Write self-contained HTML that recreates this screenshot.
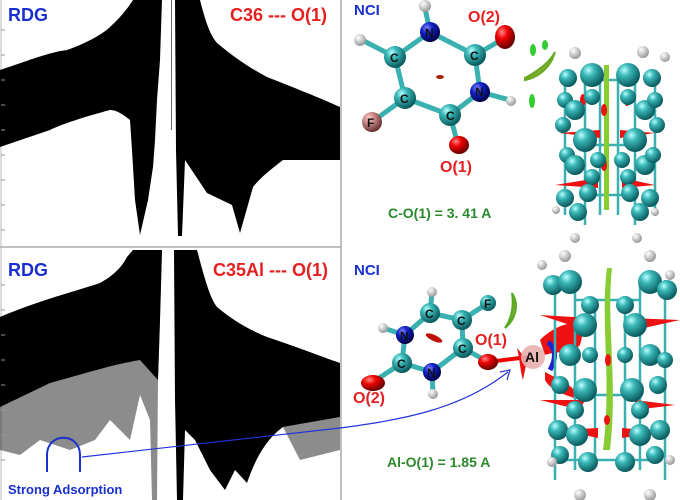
<!DOCTYPE html>
<html><head><meta charset="utf-8"><style>
html,body{margin:0;padding:0;background:#fff}
svg{display:block}
text{font-family:"Liberation Sans",Arial,sans-serif;font-weight:bold}
</style></head><body>
<svg width="680" height="500" viewBox="0 0 680 500" xmlns="http://www.w3.org/2000/svg">
<defs>
<radialGradient id="t" cx="35%" cy="30%" r="70%"><stop offset="0" stop-color="#bff"/><stop offset="0.35" stop-color="#3bb8b8"/><stop offset="1" stop-color="#0a5a5e"/></radialGradient>
<radialGradient id="w" cx="35%" cy="30%" r="70%"><stop offset="0" stop-color="#fff"/><stop offset="1" stop-color="#999"/></radialGradient>
<radialGradient id="r" cx="35%" cy="30%" r="70%"><stop offset="0" stop-color="#f88"/><stop offset="0.4" stop-color="#e00"/><stop offset="1" stop-color="#600"/></radialGradient>
<radialGradient id="b" cx="35%" cy="30%" r="70%"><stop offset="0" stop-color="#88f"/><stop offset="0.4" stop-color="#12c"/><stop offset="1" stop-color="#004"/></radialGradient>
<radialGradient id="f" cx="35%" cy="30%" r="70%"><stop offset="0" stop-color="#fcc"/><stop offset="0.4" stop-color="#c88"/><stop offset="1" stop-color="#633"/></radialGradient>
</defs>

<!-- frames -->
<line x1="341" y1="0" x2="341" y2="500" stroke="#aaa" stroke-width="1.5"/>
<line x1="0" y1="247" x2="341" y2="247" stroke="#aaa" stroke-width="1.5"/>
<line x1="1" y1="0" x2="1" y2="500" stroke="#bbb"/>

<!-- top scatter -->
<g fill="#000">
<path d="M0,70 C30,60 50,52 67,50 C90,42 105,32 110,27 C120,18 128,8 133,0 L162,0 L160,60 L157,100 L155,140 L153,167 L148,200 L140,235 L135,200 L132,150 L130,120 C120,112 115,110 110,110 C80,118 60,125 50,130 L0,147 Z"/>
<path d="M175,0 L200,0 C205,20 210,35 217,43 C235,58 250,68 267,77 C300,90 320,98 340,107 L340,160 L283,160 C270,170 260,178 253,187 L240,233 L232,205 L207,193 L185,160 L182,236 L178,236 L176,150 Z"/>
<rect x="171" y="0" width="1" height="130" opacity="0.6"/>
</g>
<!-- bottom scatter -->
<g fill="#000">
<path d="M0,317 C40,300 80,290 100,283 C115,275 123,265 127,257 L133,250 L162,250 L160,320 L158,380 L157,500 L152,500 L150,420 L140,395 L130,440 L110,420 L95,440 L70,450 L40,440 L20,455 L0,450 Z" opacity="0.45"/>
<path d="M0,317 C40,300 80,290 100,283 C115,275 123,265 127,257 L133,250 L162,250 L160,320 L158,380 L140,360 C110,365 80,375 50,383 L0,407 Z"/>
<path d="M174,250 L197,250 C205,280 210,298 217,307 C235,322 250,330 267,337 C300,348 320,356 340,363 L340,417 L283,427 C265,440 255,460 247,483 L235,470 L225,490 L210,470 L195,440 L185,430 L183,500 L177,500 L175,400 Z"/>
<path d="M283,427 L340,417 L340,450 L300,460 Z" opacity="0.45"/>
</g>

<!-- ticks -->
<g stroke="#999" stroke-width="1">
<path d="M1,30h4M1,55h4M1,80h4M1,105h4M1,130h4M1,155h4M1,180h4M1,205h4M1,230h4M1,285h4M1,310h4M1,335h4M1,360h4M1,385h4M1,410h4M1,435h4M1,460h4"/>
</g>

<text x="8" y="21" fill="#1a2fd0" font-size="18">RDG</text>
<text x="230" y="21" fill="#e52020" font-size="18">C36 --- O(1)</text>
<text x="8" y="276" fill="#1a2fd0" font-size="18">RDG</text>
<text x="213" y="276" fill="#e52020" font-size="18">C35Al --- O(1)</text>

<!-- strong adsorption marker -->
<path d="M47,472 L47,455 C47,432 80,432 80,455 L80,472" fill="none" stroke="#1a2fd0" stroke-width="2"/>
<path d="M82,457 L340,428 C400,420 460,410 508,372" fill="none" stroke="#2233dd" stroke-width="1.2"/>
<path d="M500,372 L510,370 L507,380" fill="none" stroke="#2233dd" stroke-width="1.2"/>
<text x="8" y="494" fill="#1a2fd0" font-size="13">Strong Adsorption</text>

<!-- top molecule -->
<g stroke="#3bb0b0" stroke-width="5" stroke-linecap="round" fill="none">
<path d="M430,32 L475,55 L480,92 L450,115 L405,98 L395,57 Z M430,32 L425,8 M395,57 L362,40 M405,98 L372,122 M475,55 L505,38 M480,92 L510,100 M450,115 L458,145"/>
</g>
<circle cx="425" cy="6" r="6" fill="url(#w)"/><circle cx="360" cy="40" r="6" fill="url(#w)"/><circle cx="511" cy="101" r="5" fill="url(#w)"/>
<circle cx="430" cy="32" r="10" fill="url(#b)"/><circle cx="480" cy="92" r="10" fill="url(#b)"/>
<circle cx="475" cy="55" r="11" fill="url(#t)"/><circle cx="450" cy="115" r="11" fill="url(#t)"/>
<circle cx="405" cy="98" r="11" fill="url(#t)"/><circle cx="395" cy="57" r="11" fill="url(#t)"/>
<circle cx="372" cy="122" r="10" fill="url(#f)"/>
<ellipse cx="505" cy="37" rx="10" ry="12" fill="url(#r)"/><ellipse cx="459" cy="145" rx="10" ry="9" fill="url(#r)"/>
<ellipse cx="440" cy="77" rx="4" ry="2" fill="#a20"/>
<g font-size="12" fill="#111"><text x="425" y="37">N</text><text x="475" y="96">N</text><text x="470" y="60">C</text><text x="446" y="120">C</text><text x="400" y="103">C</text><text x="390" y="62">C</text><text x="367" y="127">F</text></g>
<text x="468" y="22" fill="#e52020" font-size="16">O(2)</text>
<text x="440" y="172" fill="#e52020" font-size="16">O(1)</text>
<text x="388" y="218" fill="#2a8a2a" font-size="14">C-O(1) = 3. 41 A</text>
<text x="354" y="15" fill="#1a2fd0" font-size="15">NCI</text>
<g fill="#3c3"><ellipse cx="533" cy="50" rx="3" ry="6"/><ellipse cx="545" cy="45" rx="3" ry="5"/><ellipse cx="532" cy="101" rx="3" ry="7"/></g>
<path d="M525,78 C540,70 550,62 555,52 L552,60 C545,72 535,78 525,80 Z" fill="#8a3" stroke="#6a2" stroke-width="2"/>

<!-- top nanotube -->
<g stroke="#3bb0b0" stroke-width="2.5" fill="none">
<path d="M565,72 V215 M585,72 V225 M600,80 V215 M618,80 V215 M635,72 V225 M655,72 V215 M585,80 H635 M585,145 H635 M585,195 H635"/>
</g>
<rect x="604" y="65" width="5" height="145" fill="#8c3"/>
<g fill="#e11">
<path d="M560,133 L600,130 L600,138 Z"/><path d="M620,130 L655,133 L620,138 Z"/><path d="M555,185 L598,178 L598,188 Z"/><path d="M622,178 L655,185 L622,188 Z"/>
<ellipse cx="583" cy="100" rx="3" ry="6"/><ellipse cx="627" cy="100" rx="3" ry="6"/><ellipse cx="604" cy="110" rx="3" ry="6"/><ellipse cx="604" cy="165" rx="3" ry="6"/>
</g>
<g fill="url(#t)">
<circle cx="568" cy="78" r="9"/><circle cx="592" cy="75" r="12"/><circle cx="628" cy="75" r="12"/><circle cx="652" cy="78" r="9"/>
<circle cx="565" cy="100" r="8"/><circle cx="575" cy="110" r="10"/><circle cx="592" cy="97" r="8"/><circle cx="628" cy="97" r="8"/><circle cx="645" cy="110" r="10"/><circle cx="655" cy="100" r="8"/>
<circle cx="563" cy="125" r="8"/><circle cx="585" cy="140" r="12"/><circle cx="635" cy="140" r="12"/><circle cx="657" cy="125" r="8"/>
<circle cx="567" cy="155" r="8"/><circle cx="575" cy="165" r="10"/><circle cx="598" cy="160" r="8"/><circle cx="622" cy="160" r="8"/><circle cx="645" cy="165" r="10"/><circle cx="653" cy="155" r="8"/>
<circle cx="592" cy="177" r="8"/><circle cx="628" cy="177" r="8"/>
<circle cx="565" cy="198" r="9"/><circle cx="588" cy="193" r="9"/><circle cx="630" cy="193" r="9"/><circle cx="650" cy="198" r="9"/>
<circle cx="578" cy="212" r="9"/><circle cx="640" cy="212" r="9"/>
</g>
<g fill="url(#w)"><circle cx="575" cy="53" r="6"/><circle cx="643" cy="52" r="6"/><circle cx="665" cy="57" r="5"/><circle cx="556" cy="210" r="4"/><circle cx="655" cy="212" r="4"/><circle cx="575" cy="238" r="5"/><circle cx="637" cy="238" r="5"/></g>

<!-- bottom molecule -->
<g stroke="#3bb0b0" stroke-width="5" stroke-linecap="round" fill="none">
<path d="M430,313 L462,320 L463,348 L432,372 L402,363 L405,335 Z M430,313 L432,293 M462,320 L488,303 M463,348 L488,362 M405,335 L383,328 M402,363 L373,382 M432,372 L433,393"/>
</g>
<path d="M488,362 L528,357" stroke="#e00" stroke-width="4"/>
<circle cx="432" cy="292" r="5" fill="url(#w)"/><circle cx="383" cy="328" r="5" fill="url(#w)"/><circle cx="433" cy="394" r="5" fill="url(#w)"/>
<circle cx="405" cy="335" r="9" fill="url(#b)"/><circle cx="432" cy="372" r="9" fill="url(#b)"/>
<circle cx="430" cy="313" r="10" fill="url(#t)"/><circle cx="462" cy="320" r="10" fill="url(#t)"/><circle cx="463" cy="348" r="10" fill="url(#t)"/><circle cx="402" cy="363" r="10" fill="url(#t)"/>
<circle cx="488" cy="303" r="8" fill="url(#t)"/>
<ellipse cx="488" cy="362" rx="10" ry="8" fill="url(#r)"/><ellipse cx="373" cy="383" rx="12" ry="8" fill="url(#r)"/>
<ellipse cx="434" cy="338" rx="9" ry="3" fill="#b10" transform="rotate(25 434 338)"/>
<g font-size="12" fill="#111"><text x="400" y="340">N</text><text x="427" y="377">N</text><text x="425" y="318">C</text><text x="457" y="325">C</text><text x="458" y="353">C</text><text x="397" y="368">C</text><text x="484" y="308">F</text></g>
<text x="475" y="345" fill="#e52020" font-size="16">O(1)</text>
<text x="353" y="403" fill="#e52020" font-size="16">O(2)</text>
<text x="387" y="467" fill="#2a8a2a" font-size="14">Al-O(1) = 1.85 A</text>
<text x="354" y="275" fill="#1a2fd0" font-size="15">NCI</text>
<path d="M512,293 C520,305 515,320 505,328 C512,318 514,305 512,293 Z" fill="#7a3" stroke="#5a2" stroke-width="2"/>
<!-- Al region -->
<path d="M517,348 C520,360 520,370 523,380 L527,360 Z" fill="#e11"/>
<path d="M540,340 C560,320 590,315 580,345 C570,355 560,350 545,355 Z" fill="#e11"/>
<path d="M545,372 C560,380 575,385 580,400 C565,395 550,390 545,380 Z" fill="#e11"/>
<circle cx="533" cy="357" r="12" fill="#e9b0b0" opacity="0.9"/>
<path d="M548,342 Q560,352 550,370" stroke="#22c" stroke-width="5" fill="none"/>
<text x="525" y="362" font-size="14" fill="#111" font-weight="normal">Al</text>

<!-- bottom nanotube -->
<g stroke="#3bb0b0" stroke-width="2.5" fill="none">
<path d="M555,280 V480 M575,285 V470 M595,300 V460 M625,300 V460 M640,285 V470 M665,280 V480 M575,300 H640 M575,395 H640 M560,460 H660"/>
</g>
<path d="M607,268 C600,320 612,380 603,450 L610,450 C618,380 606,320 612,268 Z" fill="#8c3"/>
<g fill="#e11">
<path d="M540,315 L590,318 L585,330 Z"/><path d="M630,318 L680,320 L635,330 Z"/><path d="M540,400 L585,400 L580,410 Z"/><path d="M635,400 L675,405 L635,410 Z"/><path d="M560,430 L598,428 L598,438 Z"/><path d="M622,428 L665,432 L622,438 Z"/>
<ellipse cx="608" cy="360" rx="3" ry="6"/><ellipse cx="607" cy="420" rx="3" ry="5"/>
</g>
<g fill="url(#t)">
<circle cx="553" cy="285" r="10"/><circle cx="570" cy="282" r="12"/><circle cx="650" cy="282" r="12"/><circle cx="667" cy="290" r="10"/>
<circle cx="590" cy="305" r="9"/><circle cx="625" cy="305" r="9"/><circle cx="585" cy="325" r="12"/><circle cx="635" cy="325" r="12"/>
<circle cx="570" cy="355" r="11"/><circle cx="590" cy="355" r="8"/><circle cx="625" cy="355" r="8"/><circle cx="650" cy="355" r="11"/><circle cx="665" cy="360" r="8"/>
<circle cx="560" cy="385" r="9"/><circle cx="585" cy="390" r="12"/><circle cx="632" cy="390" r="12"/><circle cx="658" cy="385" r="9"/>
<circle cx="575" cy="410" r="9"/><circle cx="640" cy="410" r="9"/>
<circle cx="558" cy="430" r="10"/><circle cx="577" cy="435" r="11"/><circle cx="640" cy="435" r="11"/><circle cx="660" cy="430" r="10"/>
<circle cx="560" cy="455" r="9"/><circle cx="655" cy="455" r="9"/><circle cx="588" cy="462" r="10"/><circle cx="625" cy="462" r="10"/>
</g>
<g fill="url(#w)"><circle cx="565" cy="256" r="6"/><circle cx="650" cy="256" r="6"/><circle cx="542" cy="265" r="5"/><circle cx="670" cy="275" r="5"/><circle cx="552" cy="462" r="5"/><circle cx="670" cy="460" r="5"/><circle cx="580" cy="495" r="6"/><circle cx="650" cy="495" r="6"/></g>
</svg>
</body></html>
